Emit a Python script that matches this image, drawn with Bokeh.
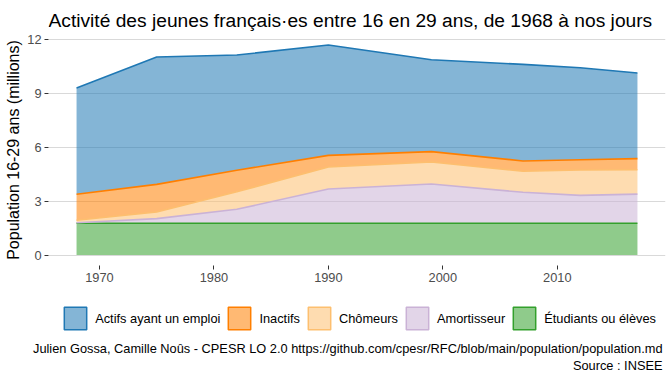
import numpy as np
from bokeh.plotting import figure
from bokeh.layouts import column
from bokeh.models import Range1d, Legend, LegendItem, Label, Title, FixedTicker
from bokeh.embed import file_html
from bokeh.resources import INLINE

# ---- data (millions) ----
years = [1968, 1975, 1982, 1990, 1999, 2007, 2012, 2017]
etudiants = [1.77, 1.77, 1.77, 1.77, 1.77, 1.77, 1.77, 1.77]
amortisseur = [0.03, 0.26, 0.78, 1.91, 2.19, 1.73, 1.56, 1.63]
chomeurs = [0.14, 0.37, 0.98, 1.23, 1.23, 1.17, 1.41, 1.36]
inactifs = [1.45, 1.54, 1.20, 0.65, 0.58, 0.58, 0.58, 0.62]
actifs = [5.93, 7.11, 6.43, 6.16, 5.13, 5.39, 5.13, 4.78]

legend_names = ["Actifs ayant un emploi", "Inactifs", "Chômeurs", "Amortisseur", "Étudiants ou élèves"]
legend_colors = ["#1F78B4", "#FF7F00", "#FDBF6F", "#CAB2D6", "#33A02C"]
x_ticks = [1970, 1980, 1990, 2000, 2010]
y_ticks = [0, 3, 6, 9, 12]

title_text = "Activité des jeunes français·es entre 16 en 29 ans, de 1968 à nos jours"
y_label = "Population 16-29 ans (millions)"
caption1 = "Julien Gossa, Camille Noûs - CPESR LO 2.0 https://github.com/cpesr/RFC/blob/main/population/population.md"
caption2 = "Source : INSEE"

FONT = "Liberation Sans"
W = 672
LEFT, RIGHT = 48, 7
FRAME_W = W - LEFT - RIGHT


def strip_fig(h, bottom_border=0):
    f = figure(width=W, height=h, output_backend="svg", toolbar_location=None, title=None,
               x_axis_type=None, y_axis_type=None,
               x_range=Range1d(0, FRAME_W), y_range=Range1d(0, h - bottom_border),
               min_border_left=LEFT, min_border_right=RIGHT, min_border_top=0,
               min_border_bottom=bottom_border)
    f.outline_line_color = None
    f.grid.visible = False
    return f


# ---- title strip ----
TOP_H = 31
ft = strip_fig(TOP_H)
ft.add_layout(Label(x=0, y=TOP_H - 19.5, text=title_text, text_font=FONT, text_font_size="19.2px",
                    text_color="black", text_align="left", text_baseline="alphabetic"))

# ---- main chart ----
stack_series = [etudiants, amortisseur, chomeurs, inactifs, actifs]   # bottom -> top
stack_colors = ["#33A02C", "#CAB2D6", "#FDBF6F", "#FF7F00", "#1F78B4"]

MAIN_H = 256
p = figure(width=W, height=MAIN_H, output_backend="svg", toolbar_location=None,
           x_range=Range1d(1965.55, 2019.45), y_range=Range1d(-0.586, 12.306),
           min_border_left=LEFT, min_border_right=RIGHT, min_border_top=3, min_border_bottom=22)
p.outline_line_color = None
p.xgrid.visible = False
p.ygrid.ticker = FixedTicker(ticks=y_ticks)
p.ygrid.grid_line_color = "#D9D9D9"
p.ygrid.grid_line_width = 1.1

for ax in (p.xaxis[0], p.yaxis[0]):
    ax.axis_line_color = None
    ax.minor_tick_line_color = None
    ax.major_tick_line_color = "#333333"
    ax.major_tick_out = 4
    ax.major_tick_in = 0
    ax.major_label_text_font = FONT
    ax.major_label_text_font_size = "12.8px"
    ax.major_label_text_color = "#4D4D4D"
    ax.major_label_standoff = 3
p.xaxis.ticker = FixedTicker(ticks=x_ticks)
p.yaxis.ticker = FixedTicker(ticks=y_ticks)
p.yaxis.axis_label = y_label
p.yaxis.axis_label_text_font = FONT
p.yaxis.axis_label_text_font_size = "16px"
p.yaxis.axis_label_text_font_style = "normal"
p.yaxis.axis_label_text_color = "black"
p.yaxis.axis_label_standoff = 2

bottom = np.zeros(len(years))
tops = []
for vals, col in zip(stack_series, stack_colors):
    top = bottom + np.array(vals)
    p.varea(x=years, y1=bottom.tolist(), y2=top.tolist(), fill_color=col, fill_alpha=0.55)
    tops.append((top.tolist(), col))
    bottom = top
for top, col in tops:
    p.line(x=years, y=top, line_color=col, line_width=1.6)

# ---- legend + caption strip ----
BOT_H = 378 - TOP_H - MAIN_H      # 91
CAP_B = 40                        # room for the two caption lines
fb = strip_fig(BOT_H, CAP_B)
frame_h = BOT_H - CAP_B
items = []
for name, col in zip(legend_names, legend_colors):
    # legend proxy glyph (one zero-size quad, off the strip's visible range)
    r = fb.quad(left=years[:1], right=years[:1], bottom=[0], top=[0], fill_color=col,
                fill_alpha=0.55, line_color=col, line_width=1.5)
    items.append(LegendItem(label=name, renderers=[r]))
leg_top = 304.2 - (TOP_H + MAIN_H)
legend = Legend(items=items, orientation="horizontal",
                location=(61.2 - LEFT, frame_h - leg_top - 28),
                glyph_width=28, glyph_height=28, label_standoff=6, spacing=5,
                padding=0, margin=0, border_line_color=None, background_fill_alpha=0,
                label_text_font=FONT, label_text_font_size="12.8px", label_text_color="black")
fb.add_layout(legend)
fb.add_layout(Title(text=caption1, align="right", offset=3, standoff=0, text_font=FONT,
                    text_font_size="12.8px", text_font_style="normal", text_color="black"), "below")
fb.add_layout(Title(text=caption2, align="right", offset=3, standoff=0, text_font=FONT,
                    text_font_size="12.8px", text_font_style="normal", text_color="black"), "below")

layout = column(ft, p, fb, spacing=0)
open("out.html", "w").write(file_html(layout, INLINE))
